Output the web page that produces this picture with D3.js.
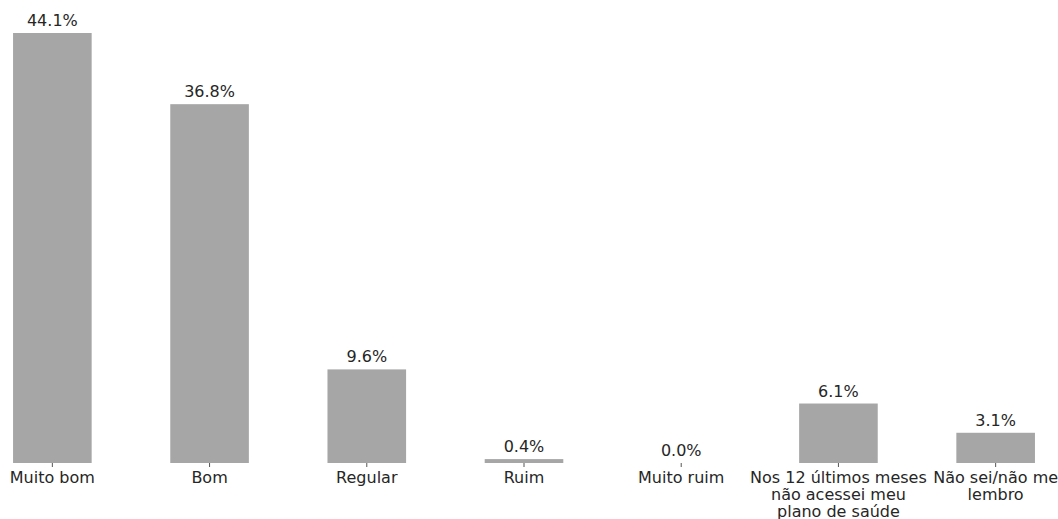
<!DOCTYPE html>
<html>
<head>
<meta charset="utf-8">
<script src="https://cdn.jsdelivr.net/npm/d3@7"></script>
<style>
  body { margin: 0; background: #fff; }
  text { font-family: "DejaVu Sans", sans-serif; fill: #262626; }
</style>
</head>
<body>
<div class="chart"></div>
<script>
var svgWidth = 1058;
var svgHeight = 519;

// categories (line breaks as in the picture)
var categories = [
  ["Muito bom"],
  ["Bom"],
  ["Regular"],
  ["Ruim"],
  ["Muito ruim"],
  ["Nos 12 últimos meses", "não acessei meu", "plano de saúde"],
  ["Não sei/não me", "lembro"]
];
var values = [44.1, 36.8, 9.6, 0.4, 0.0, 6.1, 3.1];
var valueLabels = ["44.1%", "36.8%", "9.6%", "0.4%", "0.0%", "6.1%", "3.1%"];

var baseY = 463;

var svg = d3.select(".chart")
  .append("svg")
  .attr("width", svgWidth)
  .attr("height", svgHeight);

var xBandScale = d3.scaleBand()
  .domain(d3.range(categories.length))
  .range([0, 1048])
  .paddingInner(0.5)
  .paddingOuter(0.083);

var yLinearScale = d3.scaleLinear()
  .domain([0, 44.1])
  .range([baseY, 33]);

svg.selectAll("rect.bar")
  .data(values)
  .enter()
  .append("rect")
  .attr("class", "bar")
  .attr("x", (d, i) => xBandScale(i))
  .attr("y", d => yLinearScale(d))
  .attr("width", xBandScale.bandwidth())
  .attr("height", d => baseY - yLinearScale(d))
  .attr("fill", "#a6a6a6");

svg.selectAll("text.value")
  .data(values)
  .enter()
  .append("text")
  .attr("class", "value")
  .attr("x", (d, i) => xBandScale(i) + xBandScale.bandwidth() / 2)
  .attr("y", d => yLinearScale(d) - 7)
  .attr("text-anchor", "middle")
  .attr("font-size", "16px")
  .text((d, i) => valueLabels[i]);

// x axis: ticks only, no domain line
var bottomAxis = d3.axisBottom(xBandScale)
  .tickSize(4)
  .tickFormat("");

var xAxis = svg.append("g")
  .attr("transform", `translate(0, ${baseY})`)
  .call(bottomAxis);
xAxis.select(".domain").remove();
xAxis.selectAll(".tick line").attr("stroke", "#555");

var tickLabels = svg.selectAll("text.cat")
  .data(categories)
  .enter()
  .append("text")
  .attr("class", "cat")
  .attr("x", (d, i) => xBandScale(i) + xBandScale.bandwidth() / 2)
  .attr("y", baseY + 20)
  .attr("text-anchor", "middle")
  .attr("font-size", "16px");

tickLabels.each(function(lines) {
  var t = d3.select(this);
  lines.forEach(function(line, k) {
    t.append("tspan")
      .attr("x", t.attr("x"))
      .attr("dy", k === 0 ? 0 : 17)
      .text(line);
  });
});
</script>
</body>
</html>
